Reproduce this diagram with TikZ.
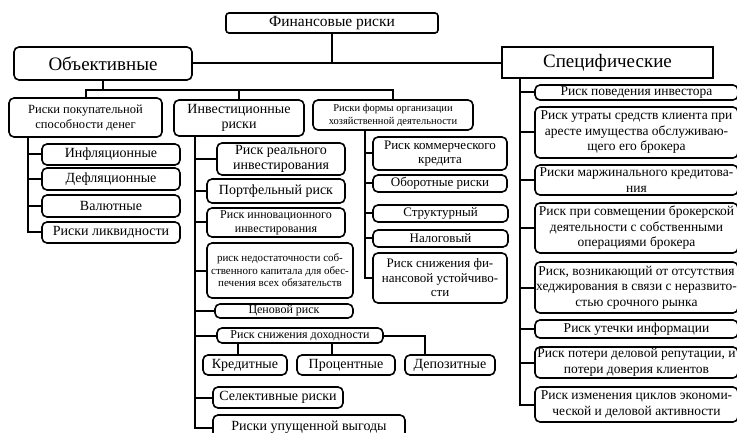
\documentclass[tikz,border=0pt]{standalone}
\usepackage{fontspec}
\setmainfont{Liberation Serif}
\newcommand\fsz[2]{\fontsize{#1}{#2}\selectfont}
\tikzset{
  bx/.style={draw, line width=1.6pt, rounded corners=5pt, inner sep=0pt, align=center, font=\fsz{14}{15.5}},
  fc/.style={font=\fsz{13}{14.5}},
  rc/.style={font=\fsz{13.5}{15.5}},
  ln/.style={line width=2pt},
}
\newcommand\mybx[7][]{%
  \node[bx,#1,minimum width={(#5-#3)*1pt},minimum height={(#6-#4)*1pt}] (#2) at ({(#3+#5)/2},{(#4+#6)/2}) {#7};}
\begin{document}
\begin{tikzpicture}[x=1pt,y=-1pt]
\useasboundingbox (0,0) rectangle (737,433);
\fill[white] (0,0) rectangle (737,433);
\clip (0,0) rectangle (737,433);
% top level
\mybx[rounded corners=3pt, font=\fsz{15.5}{17}]{fin}{226}{13}{438}{33}{Финансовые риски}
\mybx[font=\fsz{19}{21}]{obj}{14}{47}{192}{80}{Объективные}
\mybx[sharp corners, font=\fsz{19}{21}]{spec}{502}{47}{713}{78}{Специфические}
% level 2
\mybx[font=\fsz{12.5}{15}]{pok}{9}{98}{162}{137}{Риски покупательной\\способности денег}
\mybx{inv}{174}{100}{304}{136}{Инвестиционные\\риски}
\mybx[font=\fsz{10.5}{13}]{form}{313}{100}{473}{130}{Риски формы организации\\хозяйственной деятельности}
% left column
\mybx{inf}{42}{144}{180}{165}{Инфляционные}
\mybx{def}{42}{168}{180}{190}{Дефляционные}
\mybx{val}{42}{195}{180}{217}{Валютные}
\mybx{liq}{42}{222}{180}{243}{Риски ликвидности}
% middle column
\mybx{real}{217}{143}{345}{175}{Риск реального\\инвестирования}
\mybx{port}{207}{179}{345}{203}{Портфельный риск}
\mybx[font=\fsz{12}{14}]{innov}{207}{208}{345}{237}{Риск инновационного\\инвестирования}
\mybx[font=\fsz{11}{12.5}]{nedost}{207}{243}{353}{298}{риск недостаточности соб-\\ственного капитала для обес-\\печения всех обязательств}
\mybx[font=\fsz{12}{13}]{cen}{215}{304}{353}{318}{Ценовой риск}
\mybx[font=\fsz{12}{13}]{dox}{217}{328}{383}{343}{Риск снижения доходности}
\mybx{kred}{203}{355}{287}{375}{Кредитные}
\mybx{proc}{297}{355}{395}{375}{Процентные}
\mybx{dep}{405}{355}{495}{375}{Депозитные}
\mybx{sel}{213}{387}{343}{408}{Селективные риски}
\mybx{upus}{213}{415}{405}{440}{Риски упущенной выгоды}
% form column
\mybx[fc]{komm}{373}{137}{507}{170}{Риск коммерческого\\кредита}
\mybx[fc]{obor}{373}{175}{507}{192}{Оборотные риски}
\mybx[fc]{str}{373}{205}{508}{222}{Структурный}
\mybx[fc]{nal}{373}{230}{508}{247}{Налоговый}
\mybx[fc]{ust}{373}{253}{507}{303}{Риск снижения фи-\\нансовой устойчиво-\\сти}
% right column
\mybx[rc]{r1}{535}{85}{738}{100}{Риск поведения инвестора}
\mybx[rc]{r2}{535}{107}{738}{158}{Риск утраты средств клиента при\\аресте имущества обслуживаю-\\щего его брокера}
\mybx[rc]{r3}{535}{165}{738}{195}{Риски маржинального кредитова-\\ния}
\mybx[rc]{r4}{535}{203}{738}{253}{Риск при совмещении брокерской\\деятельности с собственными\\операциями брокера}
\mybx[rc]{r5}{535}{262}{738}{313}{Риск, возникающий от отсутствия\\хеджирования в связи с неразвито-\\стью срочного рынка}
\mybx[rc]{r6}{535}{320}{738}{338}{Риск утечки информации}
\mybx[rc]{r7}{535}{347}{738}{378}{Риск потери деловой репутации, и\\потери доверия клиентов}
\mybx[rc]{r8}{535}{387}{738}{422}{Риск изменения циклов экономи-\\ческой и деловой активности}
% trunk coordinates
\coordinate (l2) at (0,90);
\coordinate (lt) at (28,0);
\coordinate (mt) at (195,0);
\coordinate (ft) at (365,0);
\coordinate (st) at (520,0);
% connectors top
\draw[ln] (fin.south) -- (fin.south |- obj.east);
\draw[ln] (obj.east) -- (obj.east -| spec.west);
\draw[ln] (obj.south) -- (obj.south |- l2);
\draw[ln] (pok.north) -- (pok.north |- l2) -| (form.north);
\draw[ln] (inv.north) -- (inv.north |- l2);
% left trunk
\draw[ln] (pok.south -| lt) |- (liq.west);
\foreach \b in {inf,def,val} \draw[ln] (lt |- \b.west) -- (\b.west);
% middle trunk
\draw[ln] (inv.south -| mt) |- (upus.west);
\foreach \b in {real,port,innov,nedost,cen,dox,sel} \draw[ln] (mt |- \b.west) -- (\b.west);
\draw[ln] (dox.east) -| ([xshift=-25pt]dep.north);
\draw[ln] ([xshift=-7pt]kred.north) -- ([xshift=-7pt]kred.north |- dox.south);
\draw[ln] ([xshift=-14pt]proc.north) -- ([xshift=-14pt]proc.north |- dox.south);
% form trunk
\draw[ln] (form.south -| ft) |- (ust.west);
\foreach \b in {komm,obor,str,nal} \draw[ln] (ft |- \b.west) -- (\b.west);
% right trunk
\draw[ln] (spec.south -| st) |- (r8.west);
\foreach \b in {r1,r2,r3,r4,r5,r6,r7} \draw[ln] (st |- \b.west) -- (\b.west);
\end{tikzpicture}
\end{document}
